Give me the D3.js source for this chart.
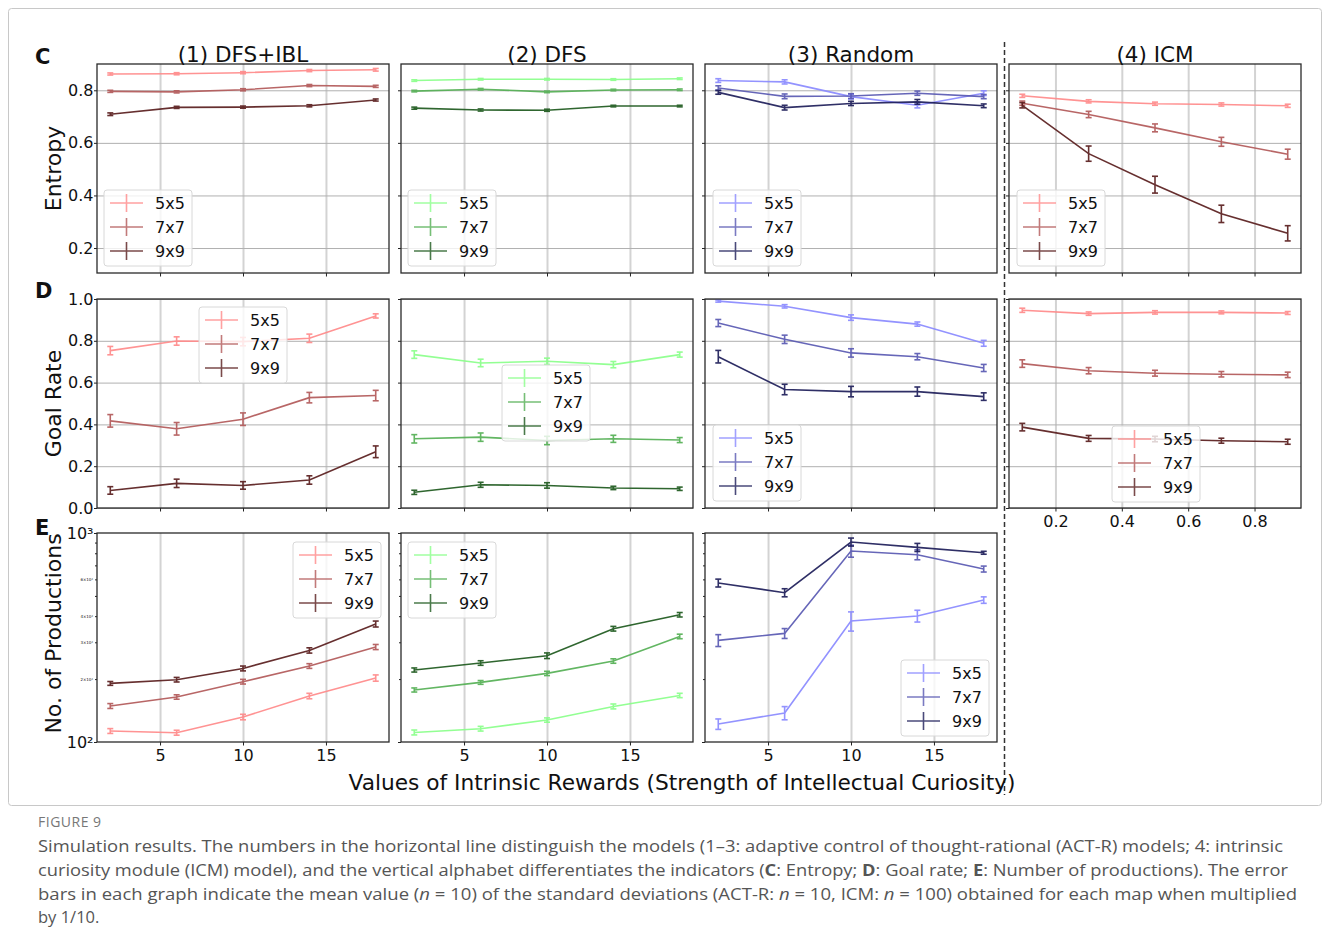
<!DOCTYPE html>
<html>
<head>
<meta charset="utf-8">
<script src="https://cdn.jsdelivr.net/npm/d3@7"></script>
<style>
  body { margin: 0; background: #fff; }
  svg text { font-family: "DejaVu Sans", sans-serif; fill: #111; }
  svg text.cap { font-family: "Open Sans", "Noto Sans", sans-serif; }
</style>
</head>
<body>
<div id="chart"></div>
<script>
// x values
const xAct = [2, 6, 10, 14, 18];
const xIcm = [0.1, 0.3, 0.5, 0.7, 0.9];
const sizes = ["5x5", "7x7", "9x9"];
const models = ["(1) DFS+IBL", "(2) DFS", "(3) Random", "(4) ICM"];

// C: entropy
const entDfsIbl = [[0.862, 0.863, 0.867, 0.875, 0.878], [0.796, 0.794, 0.802, 0.818, 0.815], [0.709, 0.735, 0.736, 0.741, 0.763]];
const entDfsIblErr = [[0.004, 0.004, 0.004, 0.004, 0.005], [0.004, 0.004, 0.004, 0.004, 0.004], [0.005, 0.004, 0.004, 0.004, 0.004]];
const entDfs = [[0.837, 0.842, 0.842, 0.841, 0.844], [0.797, 0.804, 0.794, 0.801, 0.802], [0.732, 0.725, 0.724, 0.740, 0.740]];
const entDfsErr = [[0.003, 0.003, 0.003, 0.003, 0.003], [0.003, 0.003, 0.003, 0.003, 0.003], [0.004, 0.004, 0.004, 0.003, 0.003]];
const entRandom = [[0.837, 0.832, 0.776, 0.743, 0.789], [0.809, 0.777, 0.778, 0.789, 0.776], [0.792, 0.734, 0.750, 0.756, 0.741]];
const entRandomErr = [[0.007, 0.008, 0.009, 0.010, 0.009], [0.008, 0.009, 0.009, 0.008, 0.008], [0.007, 0.009, 0.008, 0.009, 0.007]];
const entIcm = [[0.779, 0.758, 0.749, 0.746, 0.741], [0.751, 0.708, 0.657, 0.604, 0.557], [0.743, 0.559, 0.441, 0.330, 0.256]];
const entIcmErr = [[0.006, 0.006, 0.006, 0.006, 0.006], [0.008, 0.012, 0.015, 0.017, 0.019], [0.010, 0.029, 0.032, 0.033, 0.029]];

// D: goal rate
const goalDfsIbl = [[0.753, 0.799, 0.796, 0.812, 0.919], [0.417, 0.379, 0.425, 0.528, 0.538], [0.084, 0.118, 0.108, 0.134, 0.269]];
const goalDfsIblErr = [[0.02, 0.02, 0.02, 0.02, 0.01], [0.03, 0.03, 0.03, 0.025, 0.025], [0.018, 0.02, 0.018, 0.02, 0.028]];
const goalDfs = [[0.734, 0.694, 0.702, 0.686, 0.734], [0.331, 0.339, 0.323, 0.331, 0.325], [0.075, 0.111, 0.108, 0.096, 0.092]];
const goalDfsErr = [[0.018, 0.018, 0.015, 0.015, 0.012], [0.02, 0.02, 0.02, 0.017, 0.012], [0.01, 0.012, 0.013, 0.008, 0.008]];
const goalRandom = [[0.990, 0.965, 0.911, 0.880, 0.788], [0.885, 0.807, 0.742, 0.724, 0.670], [0.724, 0.567, 0.557, 0.557, 0.533]];
const goalRandomErr = [[0.005, 0.008, 0.013, 0.01, 0.014], [0.017, 0.02, 0.02, 0.015, 0.017], [0.03, 0.025, 0.025, 0.022, 0.018]];
const goalIcm = [[0.946, 0.930, 0.936, 0.936, 0.933], [0.691, 0.657, 0.645, 0.640, 0.637], [0.387, 0.333, 0.330, 0.322, 0.317]];
const goalIcmErr = [[0.01, 0.008, 0.008, 0.007, 0.007], [0.018, 0.015, 0.014, 0.013, 0.013], [0.018, 0.014, 0.013, 0.012, 0.012]];

// E: number of productions (log)
const prodDfsIbl = [[112.9, 110.8, 131.7, 166.0, 202.4], [148.7, 164.2, 194.4, 231.0, 284.8], [190.7, 198.7, 224.9, 274.3, 367.0]];
const prodDfsIblErr = [[3, 3, 4, 5, 7], [4, 4, 5, 6, 8], [4, 5, 6, 8, 12]];
const prodDfs = [[111.1, 115.8, 127.4, 148.0, 167.0], [177.4, 192.8, 212.9, 244.1, 320.0], [221.1, 238.8, 258.8, 348.4, 406.4]];
const prodDfsErr = [[3, 3, 3, 4, 4], [4, 4, 5, 6, 8], [5, 6, 8, 9, 10]];
const prodRandom = [[121.9, 137.7, 379.3, 400.9, 477.8], [306.3, 330.9, 820.0, 787.6, 672.5], [576.6, 518.1, 905.7, 853.6, 804.4]];
const prodRandomErr = [[7, 10, 40, 26, 17], [20, 18, 54, 43, 22], [25, 23, 40, 38, 13]];

const reds = ["#ff8a8a", "#b35a5a", "#5a1e1e"];
const greens = ["#8aff8a", "#55b055", "#1e5a1e"];
const blues = ["#8a8aff", "#5a5ab3", "#1e1e5a"];

// layout
const colX = [97, 401, 705, 1009];
const rowY = [64, 299, 533];
const pw = 292, ph = 209;

const svg = d3.select("#chart").append("svg")
  .attr("width", 1330).attr("height", 950);

// outer frame round the figure
svg.append("rect")
  .attr("x", 8.5).attr("y", 8.5).attr("width", 1313).attr("height", 797)
  .attr("rx", 3).attr("fill", "none").attr("stroke", "#c8c8c8");

const xActS = d3.scaleLinear().domain([1.2, 18.8]).range([0, pw]);
const xIcmS = d3.scaleLinear().domain([0.06, 0.94]).range([0, pw]);
const yScales = [
  d3.scaleLinear().domain([0.105, 0.90]).range([ph, 0]),
  d3.scaleLinear().domain([0, 1]).range([ph, 0]),
  d3.scaleLog().domain([100, 1000]).range([ph, 0])
];
const yTicks = [[0.2, 0.4, 0.6, 0.8], [0, 0.2, 0.4, 0.6, 0.8, 1.0], [100, 1000]];
const yFmt = [d3.format(".1f"), d3.format(".1f"), d => d === 100 ? "10²" : "10³"];

const panels = [
  { col: 0, row: 0, vals: entDfsIbl, errs: entDfsIblErr, pal: reds, leg: [7, 126] },
  { col: 1, row: 0, vals: entDfs, errs: entDfsErr, pal: greens, leg: [7, 126] },
  { col: 2, row: 0, vals: entRandom, errs: entRandomErr, pal: blues, leg: [8, 126] },
  { col: 3, row: 0, vals: entIcm, errs: entIcmErr, pal: reds, leg: [8, 126] },
  { col: 0, row: 1, vals: goalDfsIbl, errs: goalDfsIblErr, pal: reds, leg: [102, 8] },
  { col: 1, row: 1, vals: goalDfs, errs: goalDfsErr, pal: greens, leg: [101, 66] },
  { col: 2, row: 1, vals: goalRandom, errs: goalRandomErr, pal: blues, leg: [8, 126] },
  { col: 3, row: 1, vals: goalIcm, errs: goalIcmErr, pal: reds, leg: [103, 127] },
  { col: 0, row: 2, vals: prodDfsIbl, errs: prodDfsIblErr, pal: reds, leg: [196, 9] },
  { col: 1, row: 2, vals: prodDfs, errs: prodDfsErr, pal: greens, leg: [7, 9] },
  { col: 2, row: 2, vals: prodRandom, errs: prodRandomErr, pal: blues, leg: [196, 127] }
];

function styleAxis(sel) {
  sel.select(".domain").remove();
  sel.selectAll(".tick line").attr("stroke", "#222").attr("stroke-width", 1);
  sel.selectAll(".tick text").style("font-size", "16px");
}

panels.forEach(p => {
  const g = svg.append("g").attr("transform", `translate(${colX[p.col]},${rowY[p.row]})`);
  const icm = p.col === 3;
  const x = icm ? xIcmS : xActS;
  const xs = icm ? xIcm : xAct;
  const xTickVals = icm ? [0.2, 0.4, 0.6, 0.8] : [5, 10, 15];
  const y = yScales[p.row];

  // grid
  g.append("g").attr("transform", `translate(0,${ph})`)
    .call(d3.axisBottom(x).tickValues(xTickVals).tickSize(-ph).tickFormat(""))
    .call(a => a.select(".domain").remove())
    .selectAll("line").attr("stroke", "#d3d3d3").attr("stroke-width", 2);
  if (p.row < 2) {
    g.append("g")
      .call(d3.axisLeft(y).tickValues(yTicks[p.row]).tickSize(-pw).tickFormat(""))
      .call(a => a.select(".domain").remove())
      .selectAll("line").attr("stroke", "#b0b0b0").attr("stroke-width", 1);
  }

  // series
  const line = d3.line().x((d, i) => x(xs[i])).y(d => y(d));
  p.vals.forEach((s, k) => {
    const c = p.pal[k];
    const sg = g.append("g").attr("opacity", 0.92);
    sg.append("path").datum(s).attr("d", line)
      .attr("fill", "none").attr("stroke", c).attr("stroke-width", 1.6);
    const eb = sg.selectAll(".eb").data(s).enter().append("g");
    eb.append("line")
      .attr("x1", (d, i) => x(xs[i])).attr("x2", (d, i) => x(xs[i]))
      .attr("y1", (d, i) => y(d - p.errs[k][i])).attr("y2", (d, i) => y(d + p.errs[k][i]))
      .attr("stroke", c).attr("stroke-width", 1.6);
    [-1, 1].forEach(sgn => {
      eb.append("line")
        .attr("x1", (d, i) => x(xs[i]) - 3).attr("x2", (d, i) => x(xs[i]) + 3)
        .attr("y1", (d, i) => y(d + sgn * p.errs[k][i])).attr("y2", (d, i) => y(d + sgn * p.errs[k][i]))
        .attr("stroke", c).attr("stroke-width", 1.6);
    });
  });

  // ticks
  const xa = g.append("g").attr("transform", `translate(0,${ph})`)
    .call(d3.axisBottom(x).tickValues(xTickVals).tickSize(3.5).tickPadding(4)
      .tickFormat(icm ? d3.format(".1f") : d3.format("d")));
  styleAxis(xa);
  const showX = (p.row === 2) || (icm && p.row === 1);
  if (!showX) xa.selectAll("text").remove();

  const ya = g.append("g")
    .call(d3.axisLeft(y).tickValues(yTicks[p.row]).tickSize(3).tickPadding(0.5).tickFormat(yFmt[p.row]));
  styleAxis(ya);
  if (p.col !== 0) ya.selectAll("text").remove();

  if (p.row === 2) {
    const minor = [200, 300, 400, 500, 600, 700, 800, 900];
    const ym = g.append("g")
      .call(d3.axisLeft(y).tickValues(minor).tickSize(2).tickPadding(2)
        .tickFormat(d => [200, 300, 400, 600].includes(d) ? `${d / 100}×10²` : ""));
    styleAxis(ym);
    ym.selectAll("text").style("font-size", "4px");
    if (p.col !== 0) ym.selectAll("text").remove();
  }

  // frame
  g.append("rect").attr("width", pw).attr("height", ph)
    .attr("fill", "none").attr("stroke", "#2a2a2a").attr("stroke-width", 1.3);

  // legend
  const lg = g.append("g").attr("transform", `translate(${p.leg[0]},${p.leg[1]})`);
  lg.append("rect").attr("width", 88).attr("height", 76).attr("rx", 3)
    .attr("fill", "#fff").attr("fill-opacity", 0.8).attr("stroke", "#d8d8d8");
  sizes.forEach((lab, k) => {
    const cy = 13 + k * 24;
    const c = p.pal[k];
    const h = lg.append("g").attr("opacity", 0.8);
    h.append("line").attr("x1", 6).attr("x2", 39).attr("y1", cy).attr("y2", cy)
      .attr("stroke", c).attr("stroke-width", 1.6);
    h.append("line").attr("x1", 22.5).attr("x2", 22.5).attr("y1", cy - 9).attr("y2", cy + 9)
      .attr("stroke", c).attr("stroke-width", 1.6);
    lg.append("text").attr("x", 51).attr("y", cy + 6).style("font-size", "16px").text(lab);
  });
});

// titles
models.forEach((m, i) => {
  svg.append("text").attr("x", colX[i] + pw / 2).attr("y", 62)
    .attr("text-anchor", "middle").style("font-size", "21.5px").text(m);
});

// row letters
[["C", 64], ["D", 298], ["E", 535]].forEach(([t, yy]) => {
  svg.append("text").attr("x", 35).attr("y", yy)
    .style("font-size", "21px").attr("font-weight", "bold").text(t);
});

// y labels
[["Entropy", 0], ["Goal Rate", 1], ["No. of Productions", 2]].forEach(([t, r]) => {
  svg.append("text")
    .attr("transform", `translate(61,${rowY[r] + ph / 2 - (r === 2 ? 4 : 0)}) rotate(-90)`)
    .attr("text-anchor", "middle").style("font-size", "22px").text(t);
});

// dashed separator
svg.append("line").attr("x1", 1004.5).attr("x2", 1004.5).attr("y1", 42).attr("y2", 795)
  .attr("stroke", "#333").attr("stroke-width", 1.5).attr("stroke-dasharray", "5,3");

// x label
svg.append("text").attr("x", 682).attr("y", 790).attr("text-anchor", "middle")
  .style("font-size", "21.7px").text("Values of Intrinsic Rewards (Strength of Intellectual Curiosity)");

// caption
svg.append("text").attr("class", "cap").attr("x", 38).attr("y", 827)
  .style("font-size", "14px").style("fill", "#777").attr("letter-spacing", 0.5).text("FIGURE 9");

const capLines = [
  { y: 852, len: 1245, segs: [["Simulation results. The numbers in the horizontal line distinguish the models (1–3: adaptive control of thought-rational (ACT-R) models; 4: intrinsic", ""]] },
  { y: 876, len: 1250, segs: [["curiosity module (ICM) model), and the vertical alphabet differentiates the indicators (", ""], ["C", "b"], [": Entropy; ", ""], ["D", "b"], [": Goal rate; ", ""], ["E", "b"], [": Number of productions). The error", ""]] },
  { y: 900, len: 1259, segs: [["bars in each graph indicate the mean value (", ""], ["n", "i"], [" = 10) of the standard deviations (ACT-R: ", ""], ["n", "i"], [" = 10, ICM: ", ""], ["n", "i"], [" = 100) obtained for each map when multiplied", ""]] },
  { y: 923, len: null, segs: [["by 1/10.", ""]] }
];
capLines.forEach(l => {
  const t = svg.append("text").attr("class", "cap").attr("x", 38).attr("y", l.y)
    .style("font-size", "16.5px").style("fill", "#555");
  if (l.len) t.attr("textLength", l.len).attr("lengthAdjust", "spacingAndGlyphs");
  l.segs.forEach(([s, st]) => {
    const ts = t.append("tspan").text(s).style("fill", "#555");
    if (st === "b") ts.attr("font-weight", "bold");
    if (st === "i") ts.attr("font-style", "italic");
  });
});
</script>
</body>
</html>
